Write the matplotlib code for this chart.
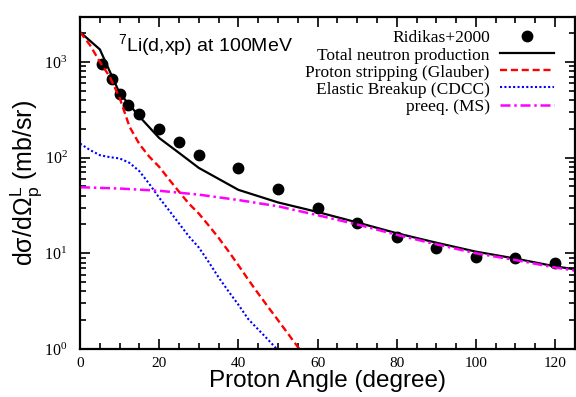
'''
7Li(d,xp) 100 MeV 양성자 각분포 그래프
'''

import numpy as np
import matplotlib.pyplot as plt
from matplotlib.ticker import MultipleLocator, LogLocator, FuncFormatter, NullFormatter

# 실험 데이터 (Ridikas+2000)
exp_angle = [5.5, 8, 10, 12, 15, 20, 25, 30, 40, 50, 60, 70, 80, 90, 100, 110, 120]
exp_xs = [960, 670, 459, 352, 282, 197, 146, 106, 77, 47.5, 29.4, 20.5, 14.7, 11.3, 9.1, 8.9, 8.0]

# 전체 중성자 생성
tot_angle = [0, 5, 10, 15, 20, 25, 30, 40, 50, 60, 70, 80, 90, 100, 110, 120, 125]
tot_xs = [2050, 1350, 470, 268, 160, 112, 78, 46, 34, 27, 21, 16.2, 12.9, 10.4, 8.8, 7.3, 6.8]

# Proton stripping (Glauber)
gl_angle = [0, 2.5, 5, 7.5, 10, 12.5, 15, 17.5, 20, 22.5, 25, 27.5, 30, 32.5, 35,
            37.5, 40, 42.5, 45, 47.5, 50, 52.5, 55, 57.5, 60]
gl_xs = [2050, 1500, 1000, 700, 420, 210, 138, 102, 80, 59, 44, 33, 26, 19.5, 14.5,
         10.5, 7.5, 5.3, 3.8, 2.75, 2.0, 1.45, 1.05, 0.77, 0.56]

# Elastic breakup (CDCC)
cd_angle = [0, 2.5, 5, 7.5, 10, 12.5, 15, 17.5, 20, 22.5, 25, 27.5, 30, 32.5, 35,
            37.5, 40, 42.5, 45, 47.5, 50, 52.5, 55]
cd_xs = [140, 120, 106, 101, 98, 88, 72, 53, 38, 28, 20.5, 15, 11.5, 8.1, 5.6,
         4.0, 2.9, 2.05, 1.6, 1.25, 0.97, 0.75, 0.58]

# preeq. (MS)
pe_angle = [0, 10, 20, 30, 40, 50, 60, 70, 80, 90, 100, 110, 120, 125]
pe_xs = [49, 47.5, 45, 41, 36, 31, 25, 20, 15.6, 12.4, 10, 8.5, 7.1, 6.6]

plt.rcParams['mathtext.default'] = 'regular'
serif = 'Liberation Serif'
sans = 'Liberation Sans'

fig = plt.figure(figsize=(5.76, 3.97), dpi=100)
ax = fig.add_axes([0.139, 0.121, 0.859, 0.836])

ax.plot(exp_angle, exp_xs, 'o', color='black', markersize=7.5, label='Ridikas+2000')
ax.plot(tot_angle, tot_xs, '-', color='black', lw=1.6, label='Total neutron production')
ax.plot(gl_angle, gl_xs, color='#ff0000', lw=1.7, dashes=(3, 1.6), label='Proton stripping (Glauber)')
ax.plot(cd_angle, cd_xs, color='#0000ff', lw=1.5, dashes=(1, 1.1), label='Elastic Breakup (CDCC)')
ax.plot(pe_angle, pe_xs, color='#ff00ff', lw=1.8, dashes=(4, 1.5, 1, 1.5), label='preeq. (MS)')

ax.set_yscale('log')
ax.set_xlim(0, 125)
ax.set_ylim(1, 2940)

# 눈금 설정
ax.xaxis.set_major_locator(MultipleLocator(20))
ax.xaxis.set_minor_locator(MultipleLocator(5))
ax.yaxis.set_major_locator(LogLocator(base=10))
ax.yaxis.set_minor_locator(LogLocator(base=10, subs=np.arange(2, 10)))
ax.yaxis.set_minor_formatter(NullFormatter())
ax.yaxis.set_major_formatter(FuncFormatter(lambda v, p: r'$10^{%d}$' % round(np.log10(v))))
ax.tick_params(which='both', direction='in', top=True, right=True, width=1.2)
ax.tick_params(which='major', length=7, labelsize=11.5)
ax.tick_params(axis='x', which='major', pad=6, labelsize=11)
ax.tick_params(axis='y', which='major', pad=9)
ax.tick_params(which='minor', length=4)
for lab in ax.get_xticklabels() + ax.get_yticklabels():
    lab.set_family(serif)
for s in ax.spines.values():
    s.set_linewidth(1.6)

ax.set_xlabel('Proton Angle (degree)', family=sans, fontsize=17.5, labelpad=0)
ax.set_ylabel(r'd$\sigma$/d$\Omega_p^L$ (mb/sr)', family=sans, fontsize=18, labelpad=0)

ax.text(0.077, 0.915, r'$^7$Li(d,xp) at 100MeV', transform=ax.transAxes,
        family=sans, fontsize=14, va='center', ha='left')

leg = ax.legend(loc='upper right', bbox_to_anchor=(0.958, 0.96), frameon=False,
                markerfirst=False, prop={'family': serif, 'size': 12.5},
                handlelength=3.1, handletextpad=0.6, labelspacing=0.05,
                borderpad=0, borderaxespad=0)

fig.savefig('out.png', dpi=100)
